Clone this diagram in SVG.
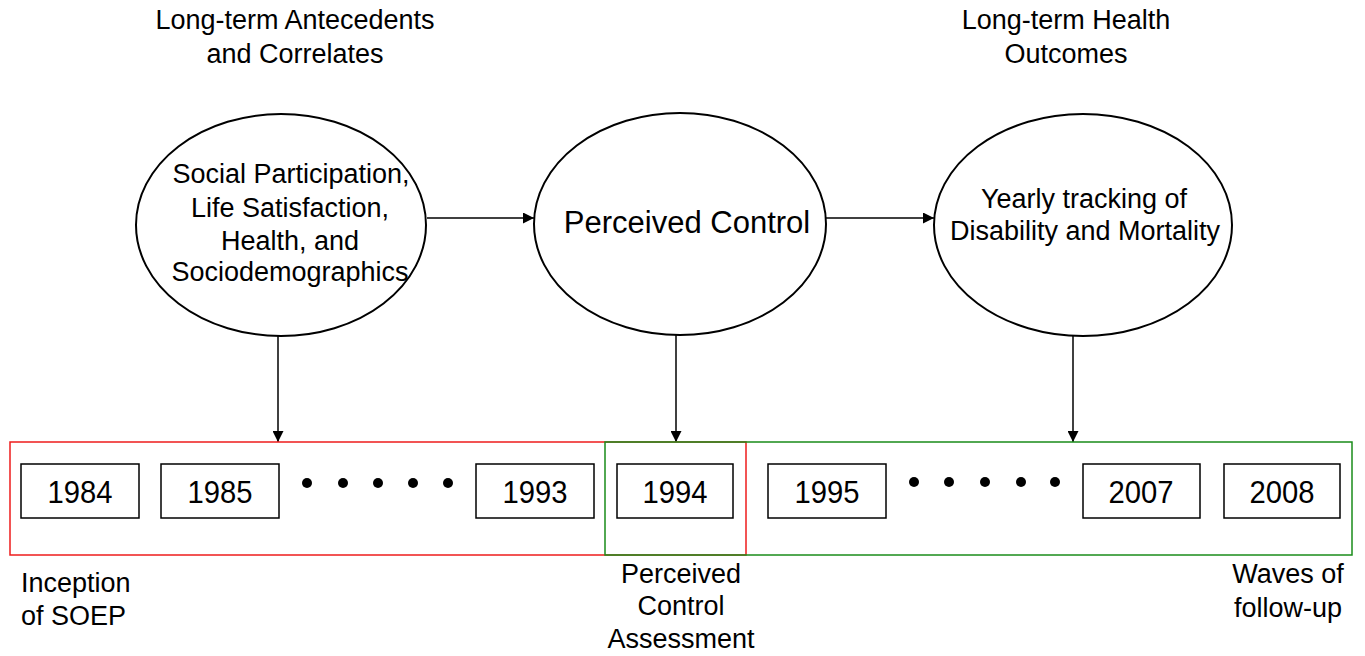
<svg xmlns="http://www.w3.org/2000/svg" width="1365" height="656" viewBox="0 0 1365 656">
<style>
text{font-family:"Liberation Sans",Arial,sans-serif;fill:#000;}
.lbl{font-size:27px;text-anchor:middle;}
.yr{font-size:31px;text-anchor:middle;}
.node{fill:#fff;stroke:#000;stroke-width:2;}
.box{fill:#fff;stroke:#000;stroke-width:1.5;}
.conn{stroke:#000;stroke-width:1.5;fill:none;marker-end:url(#ah);}
.dot{fill:#000;}
</style>
<defs>
<marker id="ah" viewBox="0 0 10 10" refX="10" refY="5" markerWidth="12" markerHeight="11" markerUnits="userSpaceOnUse" orient="auto">
<path d="M0,0 L10,5 L0,10 z" fill="#000"/>
</marker>
</defs>
<rect width="1365" height="656" fill="#fff"/>

<g id="headers">
<text class="lbl" x="295" y="29">Long-term Antecedents</text>
<text class="lbl" x="295" y="63">and Correlates</text>
<text class="lbl" x="1066" y="29">Long-term Health</text>
<text class="lbl" x="1066" y="63">Outcomes</text>
</g>

<g id="node-antecedents">
<ellipse class="node" cx="281" cy="225" rx="145" ry="111"/>
<text class="lbl" x="291" y="183">Social Participation,</text>
<text class="lbl" x="290" y="217">Life Satisfaction,</text>
<text class="lbl" x="290" y="250">Health, and</text>
<text class="lbl" x="290" y="281">Sociodemographics</text>
</g>

<g id="node-control">
<ellipse class="node" cx="680" cy="224" rx="146" ry="111"/>
<text class="lbl" x="687" y="233" style="font-size:31px">Perceived Control</text>
</g>

<g id="node-outcomes">
<ellipse class="node" cx="1083" cy="225" rx="149" ry="111"/>
<text class="lbl" x="1084" y="208">Yearly tracking of</text>
<text class="lbl" x="1085" y="240">Disability and Mortality</text>
</g>

<g id="connectors">
<line class="conn" x1="427" y1="218" x2="534" y2="218"/>
<line class="conn" x1="826" y1="218" x2="934" y2="218"/>
<line class="conn" x1="278" y1="336" x2="278" y2="442"/>
<line class="conn" x1="676" y1="335" x2="676" y2="442"/>
<line class="conn" x1="1073" y1="336" x2="1073" y2="442"/>
</g>

<g id="period-before">
<rect x="10" y="442" width="736" height="113" fill="none" stroke="#ee1c1c" stroke-width="1.5"/>
</g>
<g id="period-after">
<rect x="605" y="442" width="747" height="113" fill="none" stroke="#1a8c1a" stroke-width="1.5"/>
</g>

<g id="year-1984"><rect class="box" x="21" y="464" width="118" height="54"/><text class="yr" x="80" y="503" textLength="65" lengthAdjust="spacingAndGlyphs">1984</text></g>
<g id="year-1985"><rect class="box" x="161" y="464" width="118" height="54"/><text class="yr" x="220" y="503" textLength="65" lengthAdjust="spacingAndGlyphs">1985</text></g>
<g id="dots-1">
<circle class="dot" cx="307" cy="483" r="5"/>
<circle class="dot" cx="343" cy="483" r="5"/>
<circle class="dot" cx="378" cy="483" r="5"/>
<circle class="dot" cx="413" cy="483" r="5"/>
<circle class="dot" cx="448" cy="483" r="5"/>
</g>
<g id="year-1993"><rect class="box" x="476" y="464" width="118" height="54"/><text class="yr" x="535" y="503" textLength="65" lengthAdjust="spacingAndGlyphs">1993</text></g>
<g id="year-1994"><rect class="box" x="617" y="464" width="116" height="54"/><text class="yr" x="675" y="503" textLength="65" lengthAdjust="spacingAndGlyphs">1994</text></g>
<g id="year-1995"><rect class="box" x="768" y="464" width="118" height="54"/><text class="yr" x="827" y="503" textLength="65" lengthAdjust="spacingAndGlyphs">1995</text></g>
<g id="dots-2">
<circle class="dot" cx="914" cy="482" r="5"/>
<circle class="dot" cx="949" cy="482" r="5"/>
<circle class="dot" cx="985" cy="482" r="5"/>
<circle class="dot" cx="1021" cy="482" r="5"/>
<circle class="dot" cx="1055" cy="482" r="5"/>
</g>
<g id="year-2007"><rect class="box" x="1083" y="464" width="117" height="54"/><text class="yr" x="1141" y="503" textLength="65" lengthAdjust="spacingAndGlyphs">2007</text></g>
<g id="year-2008"><rect class="box" x="1224" y="464" width="116" height="54"/><text class="yr" x="1282" y="503" textLength="65" lengthAdjust="spacingAndGlyphs">2008</text></g>

<g id="footnotes">
<text x="21" y="592" style="font-size:27px">Inception</text>
<text x="21" y="625" style="font-size:27px">of SOEP</text>
<text class="lbl" x="681" y="583">Perceived</text>
<text class="lbl" x="681" y="615">Control</text>
<text class="lbl" x="681" y="648">Assessment</text>
<text class="lbl" x="1288" y="583">Waves of</text>
<text class="lbl" x="1288" y="617">follow-up</text>
</g>
</svg>
